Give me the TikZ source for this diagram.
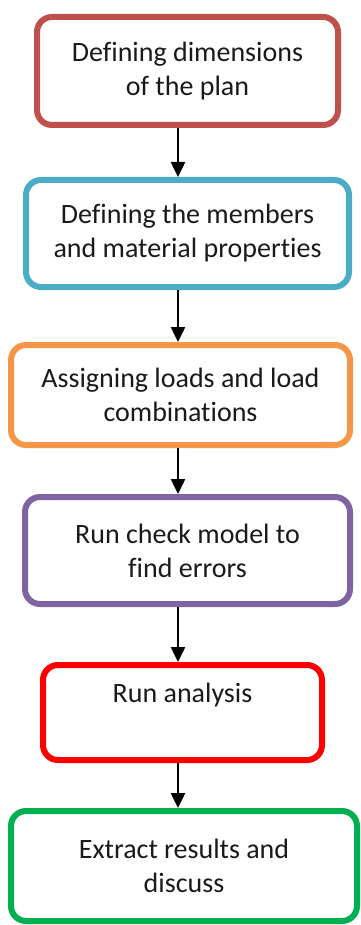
\documentclass[tikz,border=0pt]{standalone}
\usepackage{fontspec}
\setmainfont{Carlito}[RawFeature={-liga}]
\usepackage{tikz}
\usetikzlibrary{arrows.meta,positioning,calc}
\definecolor{winered}{RGB}{192,80,77}
\definecolor{skyblue}{RGB}{75,172,198}
\definecolor{orange}{RGB}{247,150,70}
\definecolor{purple}{RGB}{128,100,162}
\definecolor{brightred}{RGB}{255,0,0}
\definecolor{green}{RGB}{0,176,80}
\definecolor{textgrey}{RGB}{26,26,26}

\begin{document}
\begin{tikzpicture}[x=1pt,y=-1pt,
  stepbox/.style={draw, fill=white, rounded corners=15pt, rectangle, line width=6pt,
    align=center, text=textgrey, font=\fontsize{28}{34}\selectfont},
  flow/.style={line width=2.5pt, -{Triangle[width=14pt,length=15pt]}}]
\useasboundingbox (0,0) rectangle (360,925);

% the six steps
\node [stepbox, draw=winered, minimum width=301pt, minimum height=108pt] (dims) at (187.5,71) {Defining dimensions\\of the plan};

\node [stepbox, draw=skyblue, minimum width=323pt, minimum height=107pt] (members) at (187.5,233.5) {Defining the members\\and material properties};

\node [stepbox, draw=orange, minimum width=339pt, minimum height=100pt] (loads) at (180.5,395) {Assigning loads and load\\combinations};

\node [stepbox, draw=purple, minimum width=325pt, minimum height=107pt] (check) at (187.5,550.5) {Run check model to\\find errors};

\node [stepbox, draw=brightred, minimum width=279pt, minimum height=95pt] (analysis) at (182.5,712.5) {Run analysis\\\phantom{Ag}};

\node [stepbox, draw=green, minimum width=346pt, minimum height=110pt] (results) at (184,866) {Extract results and\\discuss};

% arrows all sit on one vertical line
\coordinate (axis) at (178,0);
\draw [flow] (dims.south -| axis) -- (members.north -| axis);
\draw [flow] (members.south -| axis) -- (loads.north -| axis);
\draw [flow] (loads.south -| axis) -- (check.north -| axis);
\draw [flow] (check.south -| axis) -- (analysis.north -| axis);
\draw [flow] (analysis.south -| axis) -- (results.north -| axis);

\end{tikzpicture}
\end{document}
